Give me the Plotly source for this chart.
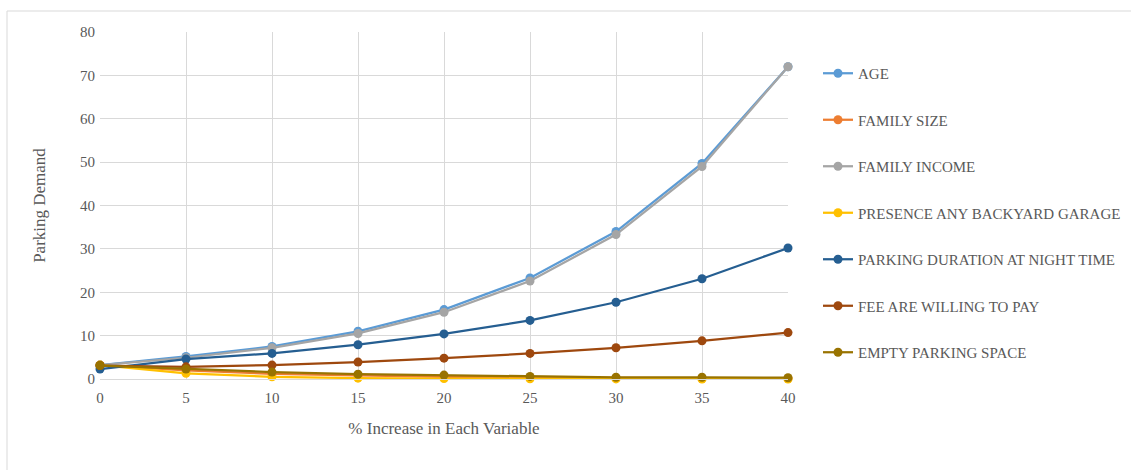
import plotly.graph_objects as go

x_vals = [0, 5, 10, 15, 20, 25, 30, 35, 40]
age = [3.2, 5.2, 7.5, 11.0, 16.0, 23.3, 34.0, 49.7, 72.0]
family_size = [3.2, 2.0, 1.2, 0.8, 0.5, 0.3, 0.2, 0.1, 0.1]
family_income = [3.2, 4.9, 7.2, 10.5, 15.4, 22.6, 33.3, 49.0, 72.0]
presence_garage = [3.2, 1.3, 0.5, 0.2, 0.1, 0.05, 0.02, 0.01, 0.0]
parking_duration = [2.3, 4.6, 5.9, 7.9, 10.4, 13.5, 17.7, 23.1, 30.2]
fee_willing = [3.1, 2.8, 3.2, 3.9, 4.8, 5.9, 7.2, 8.8, 10.7]
empty_space = [3.1, 2.3, 1.6, 1.1, 0.9, 0.6, 0.4, 0.4, 0.3]

series = [
    ("AGE", age, "#5B9BD5"),
    ("FAMILY SIZE", family_size, "#ED7D31"),
    ("FAMILY INCOME", family_income, "#A5A5A5"),
    ("PRESENCE ANY BACKYARD GARAGE", presence_garage, "#FFC000"),
    ("PARKING DURATION AT NIGHT TIME", parking_duration, "#255E91"),
    ("FEE ARE WILLING TO PAY", fee_willing, "#9E480E"),
    ("EMPTY PARKING SPACE", empty_space, "#997300"),
]

FONT = "Liberation Serif, Times New Roman, serif"
GREY = "#595959"

fig = go.Figure()
for i, (name, vals, col) in enumerate(series):
    fig.add_trace(go.Scatter(
        x=x_vals, y=vals, name=name, mode="lines+markers",
        line=dict(color=col, width=2.25),
        marker=dict(color=col, size=9),
        legendgroup=f"g{i}",
        cliponaxis=False,
    ))

W, H = 1131, 470
L, R, T, B = 100, 343, 32, 91
pw, ph = W - L - R, H - T - B

def px_to_paper(px, py):
    return (px - L) / pw, (H - B - py) / ph

x0, y0 = px_to_paper(7, 11)
x1, y1 = px_to_paper(1145, 485)

fig.add_shape(type="rect", xref="paper", yref="paper",
              x0=x0, y0=y1, x1=x1, y1=y0,
              line=dict(color="#d9d9d9", width=1), layer="below")

lx, ly = px_to_paper(818, 57)

fig.update_layout(
    width=W, height=H,
    margin=dict(l=L, r=R, t=T, b=B, autoexpand=False),
    paper_bgcolor="white", plot_bgcolor="white",
    font=dict(family=FONT, size=15, color=GREY),
    showlegend=True,
    legend=dict(
        x=lx, y=ly,
        xanchor="left", yanchor="top",
        traceorder="grouped", tracegroupgap=24,
        font=dict(family=FONT, size=15, color=GREY),
        itemwidth=30,
        bgcolor="rgba(0,0,0,0)",
    ),
    xaxis=dict(
        range=[0, 40], tickmode="array", tickvals=x_vals,
        ticktext=[str(v) for v in x_vals],
        showgrid=True, gridcolor="#d9d9d9", gridwidth=1,
        zeroline=False, showline=True, linecolor="#d9d9d9",
        ticks="", ticklabelstandoff=5,
        tickfont=dict(family=FONT, size=15, color=GREY),
        title=dict(text="% Increase in Each Variable",
                   font=dict(family=FONT, size=17, color=GREY), standoff=17),
    ),
    yaxis=dict(
        range=[0, 80], dtick=10,
        showgrid=True, gridcolor="#d9d9d9", gridwidth=1,
        zeroline=False, showline=False,
        ticks="", ticklabelstandoff=4,
        tickfont=dict(family=FONT, size=15, color=GREY),
        title=dict(text="Parking Demand",
                   font=dict(family=FONT, size=17, color=GREY), standoff=30),
    ),
)

fig.write_html("out.html", config={"displayModeBar": False},
               post_script="document.body.style.margin='0';")
